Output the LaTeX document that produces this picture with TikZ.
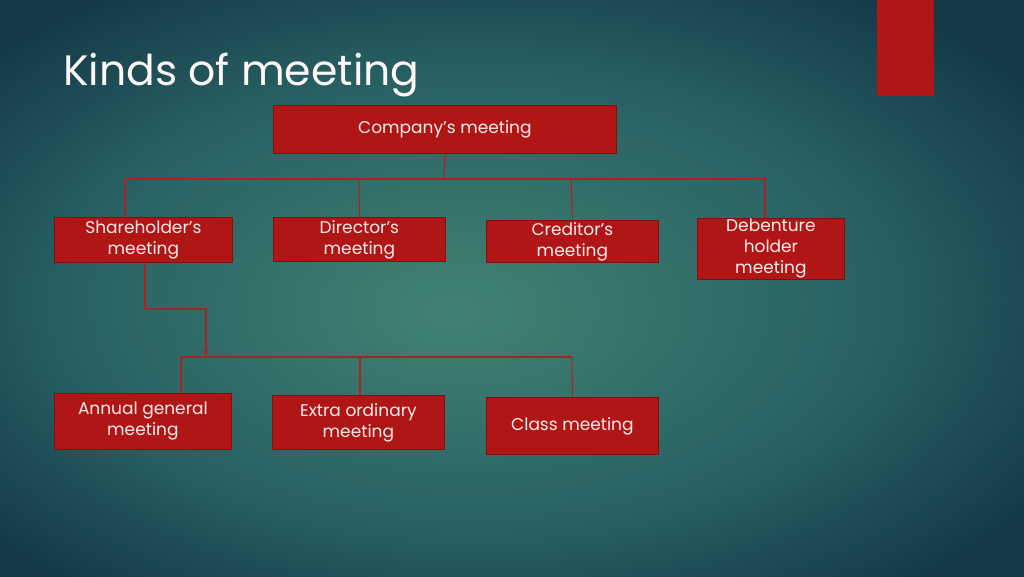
\documentclass[tikz,border=0pt]{standalone}
\usepackage{fontspec}
\setmainfont{Poppins}
\usetikzlibrary{arrows.meta}
\definecolor{boxred}{RGB}{176,22,22}
\definecolor{boxedge}{RGB}{130,16,16}
\definecolor{linered}{RGB}{168,36,36}
\definecolor{txt}{RGB}{252,236,236}
\definecolor{bgin}{RGB}{66,130,116}
\definecolor{bgmid}{RGB}{40,96,98}
\definecolor{bgout}{RGB}{20,58,72}
\pgfdeclareradialshading{bgshade}{\pgfpoint{-3bp}{-2bp}}{color(0bp)=(bgin); color(10bp)=(bgmid!50!bgin); color(20bp)=(bgmid); color(32bp)=(bgout); color(50bp)=(bgout)}
\tikzset{
  box/.style={draw=boxedge, line width=0.8pt, fill=boxred, text=txt, align=center,
    font=\fontsize{17}{21}\selectfont, inner sep=0pt, anchor=north west},
  conn/.style={draw=linered, line width=1.1pt},
}
\begin{document}
\begin{tikzpicture}[x=1pt,y=-1pt]
\useasboundingbox (0,0) rectangle (1024,576);
\shade[shading=bgshade] (0,0) rectangle (1024,576);
% red tab top right
\fill[boxred] (877,0) rectangle (934,96);
% title
\node[anchor=base west, text=txt!50!white, inner sep=0pt, font=\fontsize{42.5}{50}\selectfont] (title) at (63,85) {Kinds of meeting};
% boxes
\node[box, minimum width=343pt, minimum height=48pt] (comp) at (273,105) {Company’s meeting};
\node[box, minimum width=178pt, minimum height=45pt] (share) at (54,217) {Shareholder’s\\meeting};
\node[box, minimum width=172pt, minimum height=44pt] (dir) at (273,217) {Director’s\\meeting};
\node[box, minimum width=172pt, minimum height=42pt] (cred) at (486,220) {Creditor’s\\meeting};
\node[box, minimum width=147pt, minimum height=61pt] (deb) at (697,218) {Debenture\\holder\\meeting};
\node[box, minimum width=177pt, minimum height=56pt] (agm) at (54,393) {Annual general\\meeting};
\node[box, minimum width=172pt, minimum height=54pt] (egm) at (272,395) {Extra ordinary\\meeting};
\node[box, minimum width=172pt, minimum height=57pt] (cls) at (486,397) {Class meeting};
% connectors level 1
\coordinate (bus1) at (444,179);
\draw[conn] (comp.south) -- (bus1);
\draw[conn] (125,179) -- (766,179);
\draw[conn] (125,179) -- (share.north west -| 125,0);
\draw[conn] (359,179) -- (dir.north);
\draw[conn] (571,179) -- (cred.north);
\draw[conn] (765,179) -- (deb.north -| 765,0);
% connectors level 2
\coordinate (s1) at (145,309);
\coordinate (s2) at (206,309);
\coordinate (bus2) at (206,356);
\draw[conn, -{Stealth[length=6pt,width=5pt]}] (share.south -| 145,0) -- (s1) -- (s2) -- (bus2);
\draw[conn] (181,357) -- (572,357);
\draw[conn] (181,357) -- (agm.north -| 181,0);
\draw[conn] (360,357) -- (egm.north -| 360,0);
\draw[conn] (572,357) -- (cls.north);
\end{tikzpicture}
\end{document}
